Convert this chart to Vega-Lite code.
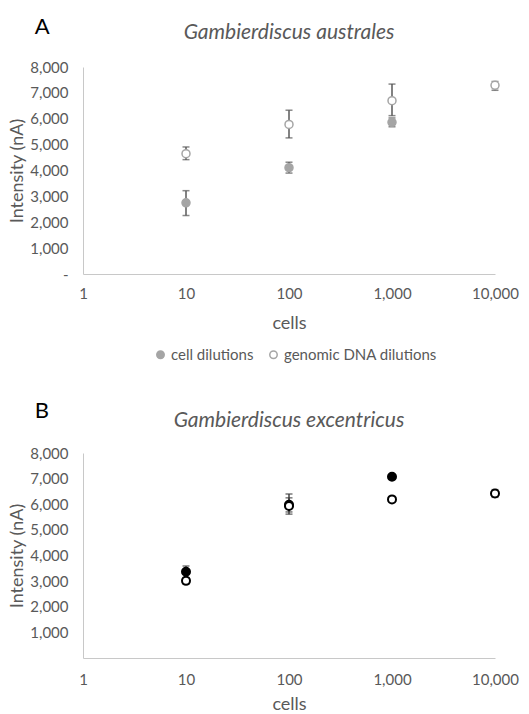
{
  "$schema": "https://vega.github.io/schema/vega-lite/v6.json",
  "background": "white",
  "padding": {"left": 8, "top": 16, "right": 5, "bottom": 0},
  "config": {
    "font": "Lato",
    "view": {"stroke": null},
    "axis": {
      "domainColor": "#C8C8C8",
      "domainWidth": 1,
      "ticks": false,
      "tickSize": 0,
      "grid": false,
      "labelColor": "#595959",
      "labelFontSize": 15,
      "labelFont": "Lato",
      "titleColor": "#595959",
      "titleFontSize": 18,
      "titleFontWeight": "normal",
      "titleFont": "Lato"
    },
    "legend": {
      "labelColor": "#595959",
      "labelFontSize": 15,
      "labelFont": "Lato"
    }
  },
  "datasets": {
    "a": [
      {"series": "cell dilutions", "cells": 10, "mean": 2750, "lo": 2260, "hi": 3220},
      {"series": "cell dilutions", "cells": 100, "mean": 4110, "lo": 3900, "hi": 4320},
      {"series": "cell dilutions", "cells": 1000, "mean": 5860, "lo": 5690, "hi": 6030},
      {"series": "genomic DNA dilutions", "cells": 10, "mean": 4650, "lo": 4420, "hi": 4910},
      {"series": "genomic DNA dilutions", "cells": 100, "mean": 5780, "lo": 5260, "hi": 6330},
      {"series": "genomic DNA dilutions", "cells": 1000, "mean": 6700, "lo": 6120, "hi": 7340},
      {"series": "genomic DNA dilutions", "cells": 10000, "mean": 7290, "lo": 7100, "hi": 7440}
    ],
    "b": [
      {"series": "cell dilutions", "cells": 10, "mean": 3365, "lo": 3140, "hi": 3590},
      {"series": "cell dilutions", "cells": 100, "mean": 5980, "lo": 5700, "hi": 6400},
      {"series": "cell dilutions", "cells": 1000, "mean": 7070, "lo": 6990, "hi": 7150},
      {"series": "genomic DNA dilutions", "cells": 10, "mean": 3010, "lo": 2900, "hi": 3120},
      {"series": "genomic DNA dilutions", "cells": 100, "mean": 5930, "lo": 5614, "hi": 6250},
      {"series": "genomic DNA dilutions", "cells": 1000, "mean": 6190, "lo": 6120, "hi": 6260},
      {"series": "genomic DNA dilutions", "cells": 10000, "mean": 6420, "lo": 6270, "hi": 6570}
    ]
  },
  "spacing": 37,
  "resolve": {"scale": {"fill": "independent", "stroke": "independent", "x": "independent", "y": "independent"}, "legend": {"fill": "independent", "stroke": "independent"}},
  "vconcat": [
    {
      "title": {"text": "A", "anchor": "start", "frame": "bounds", "dx": 26, "offset": -17, "fontSize": 22, "fontWeight": "normal", "color": "#000000", "font": "Lato"},
      "vconcat": [
        {
          "width": 412,
          "height": 207,
          "title": {"text": "Gambierdiscus australes", "fontStyle": "italic", "fontSize": 21, "fontWeight": "normal", "color": "#595959", "font": "Lato", "offset": 17},
          "data": {"name": "a"},
          "encoding": {
            "x": {"field": "cells", "type": "quantitative", "scale": {"type": "log", "domain": [1, 10000]},
                  "axis": {"title": "cells", "format": ",", "values": [1, 10, 100, 1000, 10000], "labelPadding": 12, "titlePadding": 13, "labelFlush": false}}
          },
          "layer": [
            {
              "mark": {"type": "errorbar", "ticks": {"size": 7, "color": "#595959"}, "rule": {"color": "#595959"}, "thickness": 1.5},
              "encoding": {
                "y": {"field": "lo", "type": "quantitative", "scale": {"domain": [0, 8000]},
                      "axis": {"title": "Intensity (nA)", "values": [0, 1000, 2000, 3000, 4000, 5000, 6000, 7000, 8000], "labelExpr": "datum.value == 0 ? '-' : format(datum.value, ',')", "labelPadding": 15, "titlePadding": 3}},
                "y2": {"field": "hi"},
                "detail": {"field": "series"}
              }
            },
            {
              "mark": {"type": "point", "filled": true, "size": 64, "strokeWidth": 1.5, "opacity": 1},
              "encoding": {
                "y": {"field": "mean", "type": "quantitative", "scale": {"domain": [0, 8000]},
                      "axis": {"title": "Intensity (nA)", "values": [0, 1000, 2000, 3000, 4000, 5000, 6000, 7000, 8000], "labelExpr": "datum.value == 0 ? '-' : format(datum.value, ',')", "labelPadding": 15, "titlePadding": 3}},
                "fill": {"field": "series", "type": "nominal",
                         "scale": {"domain": ["cell dilutions", "genomic DNA dilutions"], "range": ["#A5A5A5", "#FFFFFF"]},
                         "legend": {"title": null, "orient": "none", "legendX": 70, "legendY": 280, "direction": "horizontal", "symbolSize": 55, "symbolStrokeWidth": 1.5, "columnPadding": 12, "labelOffset": 3}},
                "stroke": {"field": "series", "type": "nominal",
                           "scale": {"domain": ["cell dilutions", "genomic DNA dilutions"], "range": ["#A5A5A5", "#A5A5A5"]},
                           "legend": {"title": null, "orient": "none", "legendX": 70, "legendY": 280, "direction": "horizontal", "symbolSize": 55, "symbolStrokeWidth": 1.5, "columnPadding": 12, "labelOffset": 3}}
              }
            }
          ]
        }
      ]
    },
    {
      "title": {"text": "B", "anchor": "start", "frame": "bounds", "dx": 26, "offset": -13, "fontSize": 22, "fontWeight": "normal", "color": "#000000", "font": "Lato"},
      "vconcat": [
        {
          "width": 412,
          "height": 205,
          "title": {"text": "Gambierdiscus excentricus", "fontStyle": "italic", "fontSize": 21, "fontWeight": "normal", "color": "#595959", "font": "Lato", "offset": 15},
          "data": {"name": "b"},
          "encoding": {
            "x": {"field": "cells", "type": "quantitative", "scale": {"type": "log", "domain": [1, 10000]},
                  "axis": {"title": "cells", "format": ",", "values": [1, 10, 100, 1000, 10000], "labelPadding": 14, "titlePadding": 8, "labelFlush": false}}
          },
          "layer": [
            {
              "mark": {"type": "errorbar", "ticks": {"size": 7, "color": "#404040"}, "rule": {"color": "#404040"}, "thickness": 1.5},
              "encoding": {
                "y": {"field": "lo", "type": "quantitative", "scale": {"domain": [0, 8000]},
                      "axis": {"title": "Intensity (nA)", "values": [1000, 2000, 3000, 4000, 5000, 6000, 7000, 8000], "labelExpr": "format(datum.value, ',')", "labelPadding": 15, "titlePadding": 3}},
                "y2": {"field": "hi"},
                "detail": {"field": "series"}
              }
            },
            {
              "mark": {"type": "point", "filled": true, "size": 64, "strokeWidth": 2, "opacity": 1},
              "encoding": {
                "y": {"field": "mean", "type": "quantitative", "scale": {"domain": [0, 8000]},
                      "axis": {"title": "Intensity (nA)", "values": [1000, 2000, 3000, 4000, 5000, 6000, 7000, 8000], "labelExpr": "format(datum.value, ',')", "labelPadding": 15, "titlePadding": 3}},
                "fill": {"field": "series", "type": "nominal",
                         "scale": {"domain": ["cell dilutions", "genomic DNA dilutions"], "range": ["#000000", "#FFFFFF"]},
                         "legend": null},
                "stroke": {"field": "series", "type": "nominal",
                           "scale": {"domain": ["cell dilutions", "genomic DNA dilutions"], "range": ["#000000", "#000000"]},
                           "legend": null}
              }
            }
          ]
        }
      ]
    }
  ]
}
